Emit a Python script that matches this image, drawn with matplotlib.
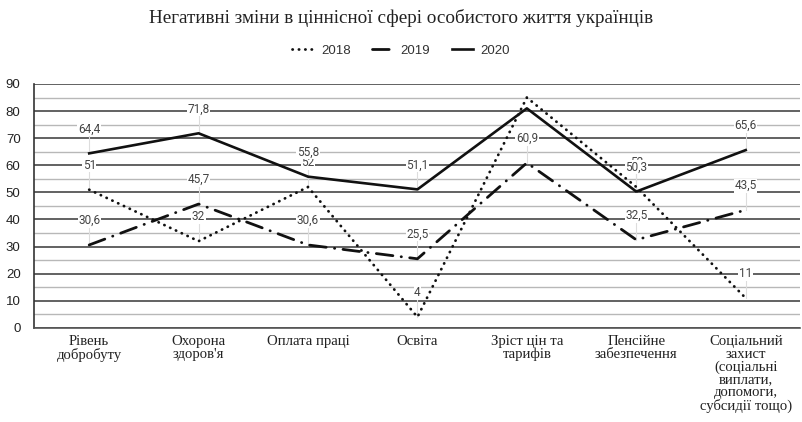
import matplotlib
matplotlib.use("Agg")
import matplotlib.pyplot as plt
from matplotlib.ticker import MultipleLocator

# Data
categories = [
    "Рівень\nдобробуту",
    "Охорона\nздоров'я",
    "Оплата праці",
    "Освіта",
    "Зріст цін та\nтарифів",
    "Пенсійне\nзабезпечення",
    "Соціальний\nзахист\n(соціальні\nвиплати,\nдопомоги,\nсубсидії тощо)",
]
years = ["2018", "2019", "2020"]
values_2018 = [51, 32, 52, 4, 85, 52, 11]
values_2019 = [30.6, 45.7, 30.6, 25.5, 60.9, 32.5, 43.5]
values_2020 = [64.4, 71.8, 55.8, 51.1, 81, 50.3, 65.6]

title = "Негативні зміни в ціннісної сфері особистого життя українців"

series = [values_2018, values_2019, values_2020]
styles = [
    dict(linestyle=(0, (0.1, 2.2)), dash_capstyle="round", linewidth=2.0),
    dict(linestyle=(0, (6, 3, 0.1, 3)), dash_capstyle="round", linewidth=2.0),
    dict(linestyle="-", linewidth=1.9),
]

fig = plt.figure(figsize=(8.02, 4.22), dpi=100)
ax = fig.add_axes([0.043, 0.223, 0.955, 0.578])

x = list(range(len(categories)))
handles = []
for vals, year, st in zip(series, years, styles):
    h, = ax.plot(x, vals, color="#111111", label=year, zorder=4, **st)
    handles.append(h)

# data labels with thin leader lines, like the source chart
label_offset = 9
for vals in series:
    for xi, v in zip(x, vals):
        ly = v + label_offset
        if ly > 88:
            continue  # these labels are hidden in the reference
        ax.plot([xi, xi], [v, ly - 1.5], color="#dddddd", linewidth=0.8, zorder=3)
        lbl = f"{v:g}".replace(".", ",")
        ax.text(xi, ly, lbl, ha="center", va="center", fontsize=8.5,
                family="Roboto", color="#444444", zorder=5,
                bbox=dict(boxstyle="square,pad=0.05", fc="white", ec="none"))

ax.set_xlim(-0.5, len(categories) - 0.5)
ax.set_ylim(0, 90)
ax.yaxis.set_major_locator(MultipleLocator(10))
ax.yaxis.set_minor_locator(MultipleLocator(5))
ax.grid(which="major", axis="y", color="#555555", linewidth=1.3, zorder=1)
ax.grid(which="minor", axis="y", color="#b8b8b8", linewidth=1.0, zorder=1)
ax.set_axisbelow(True)

ax.set_xticks(x)
ax.set_xticklabels(categories, family="Liberation Serif", fontsize=10.6,
                   color="#222222", linespacing=0.97)
ax.tick_params(axis="x", length=0, pad=5)
ax.tick_params(axis="y", which="both", length=0, pad=10, labelsize=9.5,
               labelcolor="#222222")
for lab in ax.get_yticklabels():
    lab.set_family("Liberation Sans")

for side in ["top", "right"]:
    ax.spines[side].set_visible(False)
ax.spines["left"].set_color("#333333")
ax.spines["bottom"].set_color("#555555")
ax.spines["left"].set_linewidth(1.2)
ax.spines["bottom"].set_linewidth(1.2)

fig.text(0.5, 0.958, title, ha="center", va="center", fontsize=13.8,
         family="Liberation Serif", color="#222222")

fig.legend(handles=handles, loc="center", bbox_to_anchor=(0.5, 0.88), ncol=3,
           frameon=False, handlelength=1.6, columnspacing=1.6, handletextpad=0.6,
           prop=dict(family="Liberation Sans", size=9.5), labelcolor="#333333")

fig.savefig("out.png", dpi=100)
